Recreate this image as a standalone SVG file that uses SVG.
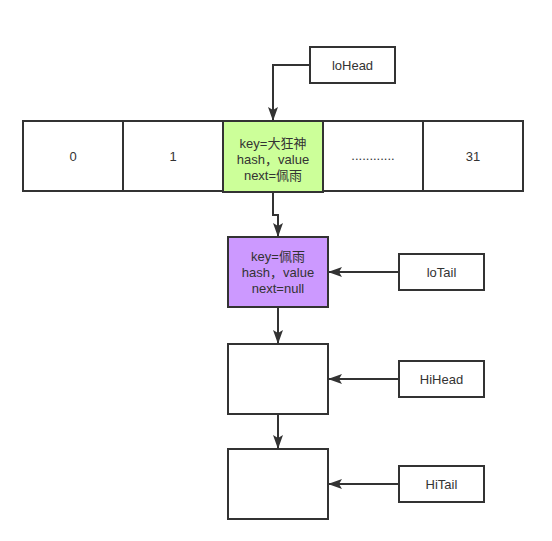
<svg xmlns="http://www.w3.org/2000/svg" width="552" height="541" viewBox="0 0 552 541">
<style>
.box{fill:#ffffff;stroke:#333333;stroke-width:2}
.green{fill:#ccff99;stroke:#333333;stroke-width:2}
.purple{fill:#cc99ff;stroke:#333333;stroke-width:2}
.lbl{font-family:"Liberation Sans","Noto Sans CJK SC",sans-serif;font-size:13px;fill:#333333;text-anchor:middle}
.edge{fill:none;stroke:#333333;stroke-width:2}
</style>
<defs>
<marker id="arr" viewBox="0 0 14 10" refX="13" refY="5" markerWidth="14" markerHeight="10" markerUnits="userSpaceOnUse" orient="auto">
<path d="M0,0 L14,5 L0,10 L3,5 Z" fill="#333333"/>
</marker>
</defs>
<rect width="552" height="541" fill="#ffffff"/>
<g id="connectors">
<path class="edge" d="M310,65 L273,65 L273,120" marker-end="url(#arr)"/>
<path class="edge" d="M273,193 L273,215 L278,215 L278,236" marker-end="url(#arr)"/>
<path class="edge" d="M399,272 L329,272" marker-end="url(#arr)"/>
<path class="edge" d="M278,307 L278,343" marker-end="url(#arr)"/>
<path class="edge" d="M399,379 L329,379" marker-end="url(#arr)"/>
<path class="edge" d="M278,414 L278,448" marker-end="url(#arr)"/>
<path class="edge" d="M399,484 L329,484" marker-end="url(#arr)"/>
</g>
<g id="cell0"><rect class="box" x="23" y="121" width="100" height="70"/><text class="lbl" x="73" y="161">0</text></g>
<g id="cell1"><rect class="box" x="123" y="121" width="100" height="70"/><text class="lbl" x="173" y="161">1</text></g>
<g id="cell3"><rect class="box" x="323" y="121" width="100" height="70"/><text class="lbl" x="373" y="160" font-size="11">............</text></g>
<g id="cell31"><rect class="box" x="423" y="121" width="100" height="70"/><text class="lbl" x="473" y="161">31</text></g>
<g id="cell2"><rect class="green" x="223" y="121" width="100" height="71"/>
<text class="lbl" x="273" y="148">key=大狂神</text>
<text class="lbl" x="273" y="164">hash，value</text>
<text class="lbl" x="273" y="180">next=佩雨</text></g>
<g id="loHead"><rect class="box" x="310" y="47" width="85" height="36"/><text class="lbl" x="352.5" y="70">loHead</text></g>
<g id="node1"><rect class="purple" x="228" y="237" width="100" height="70"/>
<text class="lbl" x="278" y="261">key=佩雨</text>
<text class="lbl" x="278" y="277">hash，value</text>
<text class="lbl" x="278" y="293">next=null</text></g>
<g id="loTail"><rect class="box" x="399" y="254" width="85" height="36"/><text class="lbl" x="441.5" y="277">loTail</text></g>
<g id="node2"><rect class="box" x="228" y="344" width="100" height="70"/></g>
<g id="HiHead"><rect class="box" x="399" y="361" width="85" height="36"/><text class="lbl" x="441.5" y="384">HiHead</text></g>
<g id="node3"><rect class="box" x="228" y="449" width="100" height="70"/></g>
<g id="HiTail"><rect class="box" x="399" y="466" width="85" height="36"/><text class="lbl" x="441.5" y="489">HiTail</text></g>
</svg>
